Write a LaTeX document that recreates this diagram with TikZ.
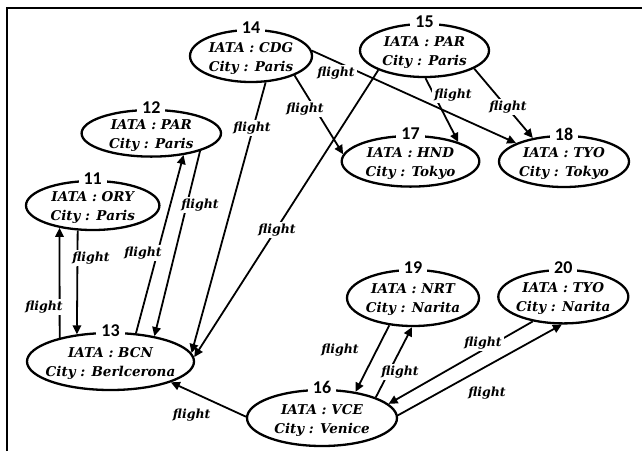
\documentclass[tikz,border=0pt]{standalone}
\usepackage{fontspec}
\newfontfamily\dvs{DejaVu Serif}
\newfontfamily\numfont{Carlito}
\usetikzlibrary{arrows.meta,shapes.geometric}
\tikzset{
  city/.style 2 args={ellipse, draw, line width=2.3pt, inner sep=0pt, minimum width=#1, minimum height=#2},
  ctext/.style={align=center, inner sep=0pt, font=\dvs\bfseries\itshape\fontsize{13.5}{19}\selectfont},
  num/.style={fill=white, inner xsep=5pt, inner ysep=0pt, font=\numfont\bfseries\fontsize{18}{18}\selectfont},
  flow/.style={line width=1.8pt, -{Triangle[length=9pt,width=8.5pt]}},
  lbl/.style={fill=white, inner sep=2pt, font=\dvs\bfseries\itshape\fontsize{12.5}{12.5}\selectfont},
}
\begin{document}
\begin{tikzpicture}[x=1pt,y=-1pt]
\useasboundingbox (0,0) rectangle (642,451);
\draw[line width=1.2pt] (7,451) -- (7,8) -- (642,8);
% ellipses
\node[city={133.4pt}{49pt}]   (n11) at (92.7,205.5) {};
\node[city={139.4pt}{46.6pt}] (n12) at (151.3,133.3) {};
\node[city={167pt}{57pt}]     (n13) at (110.5,361.5) {};
\node[city={122pt}{52pt}]     (n14) at (251,56) {};
\node[city={129pt}{53pt}]     (n15) at (424.5,50.5) {};
\node[city={150pt}{56pt}]     (n16) at (322,418) {};
\node[city={137.6pt}{50.6pt}] (n17) at (410.5,161.3) {};
\node[city={130pt}{51pt}]     (n18) at (564,161.5) {};
\node[city={132pt}{56pt}]     (n19) at (413,298) {};
\node[city={130pt}{53.4pt}]   (n20) at (563.3,296.7) {};
% texts
\node[ctext] (t11) at ([yshift=-2pt]n11.center) {IATA : ORY\\City : Paris};
\node[ctext] (t12) at ([yshift=-2pt]n12.center) {IATA : PAR\\City : Paris};
\node[ctext] (t13) at ([yshift=-2pt]n13.center) {IATA : BCN\\City : Berlcerona};
\node[ctext] (t14) at ([yshift=-2pt]n14.center) {IATA : CDG\\City : Paris};
\node[ctext] (t15) at ([yshift=-2pt]n15.center) {IATA : PAR\\City : Paris};
\node[ctext] (t16) at ([yshift=-2pt]n16.center) {IATA : VCE\\City : Venice};
\node[ctext] (t17) at ([yshift=-2pt]n17.center) {IATA : HND\\City : Tokyo};
\node[ctext] (t18) at ([yshift=-2pt]n18.center) {IATA : TYO\\City : Tokyo};
\node[ctext] (t19) at ([yshift=-2pt]n19.center) {IATA : NRT\\City : Narita};
\node[ctext] (t20) at ([yshift=-2pt]n20.center) {IATA : TYO\\City : Narita};
% numbers
\foreach \k in {11,...,20}{\node[num] (k\k) at ([yshift=1pt]n\k.north) {\k};}
% edges
\draw[flow] (n11.-121.6) -- (n13.141.1);
\draw[flow] (n13.155.8) -- (n11.-146.9);
\draw[flow] (n13.48) -- (n12.-34.2);
\draw[flow] (n12.-20.3) -- (n13.30);
\draw[flow] (n14.-61) -- (n13.6.1);
\draw[flow] (n15.-157.6) -- (n13.3.1);
\draw[flow] (n14.-24.2) -- (n17.174.9);
\draw[flow] (n14.5) -- (n18.159.7);
\draw[flow] (n15.-88) -- (n17.22.1);
\draw[flow] (n15.-20.9) -- (n18.143.8);
\draw[flow] (n16.179) -- (n13.-19.6);
\draw[flow] (n19.-131.3) -- (n16.38.6);
\draw[flow] (n16.21.9) -- (n19.-92);
\draw[flow] (n20.-141.7) -- (n16.12);
\draw[flow] (n16.2.3) -- (n20.-93);
% labels
\node[lbl] (l1) at (91,258) {flight};
\node[lbl] (l2) at (44,307) {flight};
\node[lbl] (l3) at (143,253) {flight};
\node[lbl] (l4) at (200,205) {flight};
\node[lbl] (l5) at (252,128) {flight};
\node[lbl] (l6) at (277,230) {flight};
\node[lbl] (l7) at (305,109) {flight};
\node[lbl] (l8) at (336,73) {flight};
\node[lbl] (l9) at (453,95) {flight};
\node[lbl] (l10) at (508,107) {flight};
\node[lbl] (l11) at (191.7,415) {flight};
\node[lbl] (l12) at (340,350) {flight};
\node[lbl] (l13) at (400,372) {flight};
\node[lbl] (l14) at (483,343) {flight};
\node[lbl] (l15) at (487,393) {flight};
\end{tikzpicture}
\end{document}
